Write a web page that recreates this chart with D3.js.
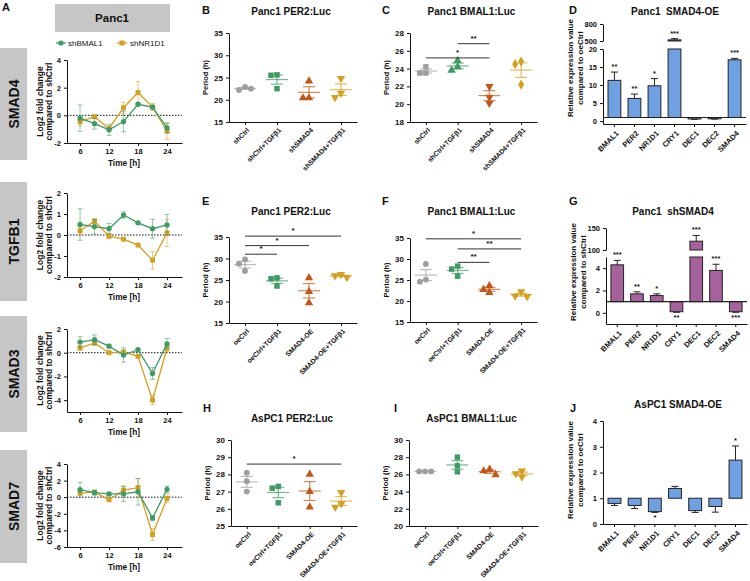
<!DOCTYPE html>
<html>
<head>
<meta charset="utf-8">
<script src="https://cdn.jsdelivr.net/npm/d3@7"></script>
<style>
body { margin: 0; background: #fff; }
svg { font-family: "Liberation Sans", Arial, sans-serif; }
text { white-space: pre; }
</style>
</head>
<body>
<svg width="750" height="581"></svg>
<script>
// ---- panel A : time courses (log2 fold change vs shCtrl) ----
var timePoints = [6, 9, 12, 15, 18, 21, 24];

var smad4Bmal = [-0.2, -0.6, -1.05, -0.45, 0.8, 0.6, -0.9];
var smad4BmalErr = [0.95, 0.4, 0.4, 0.75, 0.1, 0.1, 0.35];
var smad4Nr1d1 = [-0.45, -0.1, -0.95, 0.55, 1.65, 0.6, -1.15];
var smad4Nr1d1Err = [0.3, 0.1, 0.15, 0.4, 0.8, 0.25, 0.6];

var tgfb1Bmal = [0.5, 0.4, 0.3, 0.95, 0.58, 0.3, 0.48];
var tgfb1BmalErr = [0.75, 0.35, 0.25, 0.15, 0.05, 0.45, 0.5];
var tgfb1Nr1d1 = [0.2, 0.65, -0.05, -0.2, -0.48, -1.2, 0.1];
var tgfb1Nr1d1Err = [0.2, 0.12, 0.12, 0.05, 0.05, 0.42, 0.65];

var smad3Bmal = [0.9, 1.1, 0.55, -0.2, 0.25, -1.75, 0.75];
var smad3BmalErr = [0.45, 0.4, 0.15, 0.6, 0.05, 0.5, 0.45];
var smad3Nr1d1 = [0.4, 0.8, 0.0, 0.05, -0.3, -4.0, 0.4];
var smad3Nr1d1Err = [0.2, 0.12, 0.1, 0.15, 0.05, 0.4, 0.3];

var smad7Bmal = [0.9, 0.55, 0.4, 0.4, 0.65, -2.5, 0.95];
var smad7BmalErr = [0.9, 0.3, 0.2, 0.9, 1.6, 0.3, 0.4];
var smad7Nr1d1 = [0.5, 0.6, -0.3, 0.85, 1.15, -4.5, -0.15];
var smad7Nr1d1Err = [0.3, 0.15, 0.2, 0.5, 1.1, 0.7, 0.5];

// ---- period panels ----
var shGroups = ["shCtrl", "shCtrl+TGFβ1", "shSMAD4", "shSMAD4+TGFβ1"];
var oeGroups = ["oeCtrl", "oeCtrl+TGFβ1", "SMAD4-OE", "SMAD4-OE+TGFβ1"];

var periodB = [[22.9, 22.2, 22.5], [25.6, 25.5, 22.5], [24.2, 20.4, 20.4], [24.8, 21.5, 20.5]];
var periodC = [[24.2, 23.5, 23.5], [24.9, 24.2, 23.8], [22.0, 20.8, 20.1], [24.8, 24.5, 22.2]];
var periodE = [[29.8, 28.8, 27.1], [25.5, 25.3, 23.6], [25.5, 22.3, 19.7], [26.3, 26.0, 25.6]];
var periodF = [[28.8, 25.1, 24.6], [28.3, 27.6, 25.9], [23.6, 22.7, 22.0], [22.2, 21.2, 21.1]];
var periodH = [[28.1, 27.6, 27.0], [27.3, 27.2, 26.35], [28.0, 27.0, 26.1], [26.95, 26.3, 26.1]];
var periodI = [[26.35, 26.35, 26.35], [28.0, 27.0, 26.3], [26.6, 26.4, 25.95], [26.4, 26.1, 25.7]];

// [from group, to group, height, stars]
var sigC = [[0, 2, 25.2, "*"], [1, 2, 26.8, "**"]];
var sigE = [[0, 1, 31, "*"], [0, 2, 33, "*"], [0, 3, 35.2, "*"]];
var sigF = [[0, 3, 34.8, "*"], [1, 3, 32.4, "**"], [1, 2, 29.2, "**"]];
var sigH = [[0, 3, 28.6, "*"]];

// ---- expression bar panels ----
var barGenes = ["BMAL1", "PER2", "NR1D1", "CRY1", "DEC1", "DEC2", "SMAD4"];
var exprD = [11.3, 6.3, 9.8, 520, 0.6, 0.65, 17.0];
var errD = [2.3, 1.2, 2.0, 22, 0.1, 0.1, 0.4];
var starsD = ["**", "**", "*", "***", "", "", "***"];
var exprG = [4.3, 1.7, 1.55, 0.1, 120, 3.8, 0.1];
var errG = [0.4, 0.18, 0.15, 0.05, 13, 0.55, 0.05];
var starsG = ["***", "**", "*", "**", "***", "***", "***"];
var exprJ = [0.8, 0.72, 0.48, 1.38, 0.52, 0.68, 2.48];
var errJ = [0.08, 0.12, 0.03, 0.08, 0.07, 0.22, 0.55];
var starsJ = ["", "", "*", "", "", "", "*"];

var svg = d3.select("svg");
var green = "#3f9a63", orange = "#d4a021", grey = "#9e9e9e", rust = "#c2571a";
var fmt = function(d) { return String(d); };

function styleAxis(g, fs) {
  g.attr("font-family", null).attr("font-size", null);
  g.selectAll("path, line").attr("stroke", "#111").attr("stroke-width", 1);
  g.selectAll("text").attr("font-size", fs).attr("font-weight", "bold").attr("fill", "#111");
}

function addText(x, y, txt, size, weight, anchor, rot) {
  var t = svg.append("text")
    .attr("transform", "translate(" + x + "," + y + ")" + (rot ? " rotate(" + rot + ")" : ""))
    .attr("font-size", size).attr("font-weight", weight || "bold")
    .attr("text-anchor", anchor || "middle").attr("fill", "#111")
    .text(txt);
  return t;
}

// panel letters
[["A", 2, 11], ["B", 202, 14], ["C", 382, 14], ["D", 569, 14],
 ["E", 202, 205], ["F", 382, 205], ["G", 569, 205],
 ["H", 203, 412], ["I", 394, 412], ["J", 570, 412]].forEach(function(p) {
  addText(p[1], p[2], p[0], 11, "bold", "start");
});

// ================= panel A =================
svg.append("rect").attr("x", 55).attr("y", 4).attr("width", 115).attr("height", 28).attr("fill", "#c6c6c6");
addText(112, 22, "Panc1", 11.5);

// legend
svg.append("line").attr("x1", 56).attr("x2", 66).attr("y1", 43).attr("y2", 43).attr("stroke", green).attr("stroke-width", 1.3);
svg.append("circle").attr("cx", 61).attr("cy", 43).attr("r", 2.6).attr("fill", green);
addText(68, 46, "shBMAL1", 8, "normal", "start");
svg.append("line").attr("x1", 117).attr("x2", 127).attr("y1", 43).attr("y2", 43).attr("stroke", orange).attr("stroke-width", 1.3);
svg.append("rect").attr("x", 119.5).attr("y", 40.5).attr("width", 5).attr("height", 5).attr("fill", orange);
addText(130, 46, "shNR1D1", 8, "normal", "start");

function drawSeries(x, y, means, errs, color, shape) {
  var pts = timePoints.map(function(t, i) { return {t: t, m: means[i], e: errs[i]}; });
  var eb = svg.append("g").attr("stroke", color).attr("stroke-opacity", 0.55).attr("stroke-width", 1);
  pts.forEach(function(p) {
    eb.append("line").attr("x1", x(p.t)).attr("x2", x(p.t)).attr("y1", y(p.m - p.e)).attr("y2", y(p.m + p.e));
    eb.append("line").attr("x1", x(p.t) - 2.5).attr("x2", x(p.t) + 2.5).attr("y1", y(p.m - p.e)).attr("y2", y(p.m - p.e));
    eb.append("line").attr("x1", x(p.t) - 2.5).attr("x2", x(p.t) + 2.5).attr("y1", y(p.m + p.e)).attr("y2", y(p.m + p.e));
  });
  svg.append("path").datum(pts)
    .attr("d", d3.line().x(function(d) { return x(d.t); }).y(function(d) { return y(d.m); }))
    .attr("fill", "none").attr("stroke", color).attr("stroke-width", 1.3);
  var sym = d3.symbol().type(shape === "square" ? d3.symbolSquare : d3.symbolCircle).size(shape === "square" ? 24 : 22);
  svg.append("g").selectAll("path").data(pts).enter().append("path")
    .attr("d", sym).attr("fill", color)
    .attr("transform", function(d) { return "translate(" + x(d.t) + "," + y(d.m) + ")"; });
}

function linePanel(name, top, bottom, domain, ticks, bm, bmErr, nr, nrErr, boxTop, boxBottom) {
  svg.append("rect").attr("x", 0).attr("y", boxTop).attr("width", 27).attr("height", boxBottom - boxTop).attr("fill", "#c6c6c6");
  addText(14, (boxTop + boxBottom) / 2, name, 14, "bold", "middle", -90).attr("dy", "0.35em");

  var x = d3.scaleLinear().domain([3.3, 27.1]).range([67, 182]);
  var y = d3.scaleLinear().domain(domain).range([bottom, top]);

  svg.append("line").attr("x1", 67).attr("x2", 182).attr("y1", y(0)).attr("y2", y(0))
    .attr("stroke", "#111").attr("stroke-dasharray", "1.5,1.5");

  var gx = svg.append("g").attr("transform", "translate(0," + bottom + ")")
    .call(d3.axisBottom(x).tickValues([6, 12, 18, 24]).tickSize(3).tickSizeOuter(0).tickFormat(fmt));
  styleAxis(gx, 7.5);
  var gy = svg.append("g").attr("transform", "translate(67,0)")
    .call(d3.axisLeft(y).tickValues(ticks).tickSize(3).tickSizeOuter(0).tickFormat(fmt));
  styleAxis(gy, 7.5);

  var mid = (top + bottom) / 2;
  addText(43, mid, "Log2 fold change", 8.5, "bold", "middle", -90);
  addText(52, mid, "compared to shCtrl", 8.5, "bold", "middle", -90);
  addText(124, bottom + 23, "Time [h]", 8.3);

  drawSeries(x, y, nr, nrErr, orange, "square");
  drawSeries(x, y, bm, bmErr, green, "circle");
}

linePanel("SMAD4", 60, 143, [-2, 4], [-2, 0, 2, 4], smad4Bmal, smad4BmalErr, smad4Nr1d1, smad4Nr1d1Err, 48, 160);
linePanel("TGFB1", 193, 277, [-2, 2], [-2, -1, 0, 1, 2], tgfb1Bmal, tgfb1BmalErr, tgfb1Nr1d1, tgfb1Nr1d1Err, 182, 301);
linePanel("SMAD3", 329, 412, [-5, 2], [-4, -2, 0, 2], smad3Bmal, smad3BmalErr, smad3Nr1d1, smad3Nr1d1Err, 316, 432);
linePanel("SMAD7", 464, 547, [-6, 4], [-6, -4, -2, 0, 2, 4], smad7Bmal, smad7BmalErr, smad7Nr1d1, smad7Nr1d1Err, 450, 563);

// ================= period dot plots =================
var shapesStd = [d3.symbolCircle, d3.symbolSquare, d3.symbolTriangle, "down"];
var shapesC = [d3.symbolSquare, d3.symbolTriangle, "down", d3.symbolDiamond];
var groupColors = [grey, green, rust, orange];

function swarm(vals, y) {
  var placed = [];
  return vals.map(function(v) {
    var py = y(v), cands = [0, -6, 6, -12, 12];
    for (var i = 0; i < cands.length; i++) {
      var ok = placed.every(function(p) { return Math.hypot(p[0] - cands[i], p[1] - py) >= 6; });
      if (ok) { placed.push([cands[i], py]); return cands[i]; }
    }
    return 0;
  });
}

function dotPanel(o) {
  var x = d3.scalePoint().domain(o.cats).range([o.left, o.right]).padding(0.5);
  var y = d3.scaleLinear().domain(o.domain).range([o.bottom, o.top]);

  addText((o.left + o.right) / 2 - 2, o.titleY, o.title, 10);
  addText(o.left - 21, (o.top + o.bottom) / 2, "Period (h)", 7.5, "bold", "middle", -90);

  var gy = svg.append("g").attr("transform", "translate(" + o.left + ",0)")
    .call(d3.axisLeft(y).tickValues(o.ticks).tickSize(3).tickSizeOuter(0).tickFormat(fmt));
  styleAxis(gy, 8);
  var gx = svg.append("g").attr("transform", "translate(0," + o.bottom + ")")
    .call(d3.axisBottom(x).tickSize(3).tickSizeOuter(0).tickFormat(""));
  styleAxis(gx, 7);
  o.cats.forEach(function(c) {
    addText(x(c) + 3, o.bottom + 7, c, 6.8, "bold", "end", -45).attr("dy", "0.35em");
  });

  o.points.forEach(function(vals, gi) {
    var c = o.cats[gi], cx = x(c), col = groupColors[gi];
    var m = d3.mean(vals), sem = d3.deviation(vals) / Math.sqrt(vals.length);
    var offs = swarm(vals, y);
    var shp = o.shapes[gi];
    var sym = d3.symbol().type(shp === "down" ? d3.symbolTriangle : shp).size(shp === d3.symbolCircle ? 27 : 30);
    vals.forEach(function(v, k) {
      svg.append("path").attr("d", sym).attr("fill", col)
        .attr("transform", "translate(" + (cx + offs[k]) + "," + y(v) + ")" + (shp === "down" ? " rotate(180)" : ""));
    });
    var eg = svg.append("g").attr("stroke", col).attr("stroke-opacity", 0.7).attr("stroke-width", 1.2);
    eg.append("line").attr("x1", cx - 11).attr("x2", cx + 11).attr("y1", y(m)).attr("y2", y(m));
    eg.append("line").attr("x1", cx).attr("x2", cx).attr("y1", y(m - sem)).attr("y2", y(m + sem));
    eg.append("line").attr("x1", cx - 6).attr("x2", cx + 6).attr("y1", y(m - sem)).attr("y2", y(m - sem));
    eg.append("line").attr("x1", cx - 6).attr("x2", cx + 6).attr("y1", y(m + sem)).attr("y2", y(m + sem));
  });

  (o.sig || []).forEach(function(s) {
    var x1 = x(o.cats[s[0]]), x2 = x(o.cats[s[1]]), yy = y(s[2]);
    svg.append("line").attr("x1", x1).attr("x2", x2).attr("y1", yy).attr("y2", yy)
      .attr("stroke", "#333").attr("stroke-width", 1);
    addText((x1 + x2) / 2, yy - 3, s[3], 8, "bold");
  });
}

dotPanel({title: "Panc1 PER2:Luc", titleY: 15, left: 229, right: 357, top: 33, bottom: 122,
  domain: [15, 35], ticks: [15, 20, 25, 30, 35], cats: shGroups, points: periodB, shapes: shapesStd});
dotPanel({title: "Panc1 BMAL1:Luc", titleY: 15, left: 410, right: 537, top: 33, bottom: 122,
  domain: [18, 28], ticks: [18, 20, 22, 24, 26, 28], cats: shGroups, points: periodC, shapes: shapesC, sig: sigC});
dotPanel({title: "Panc1 PER2:Luc", titleY: 215, left: 229, right: 357, top: 237, bottom: 323,
  domain: [15, 35], ticks: [15, 20, 25, 30, 35], cats: oeGroups, points: periodE, shapes: shapesStd, sig: sigE});
dotPanel({title: "Panc1 BMAL1:Luc", titleY: 215, left: 410, right: 537, top: 238, bottom: 322,
  domain: [15, 35], ticks: [15, 20, 25, 30, 35], cats: oeGroups, points: periodF, shapes: shapesStd, sig: sigF});
dotPanel({title: "AsPC1 PER2:Luc", titleY: 422, left: 231, right: 357, top: 440, bottom: 526,
  domain: [25, 30], ticks: [25, 26, 27, 28, 29, 30], cats: oeGroups, points: periodH, shapes: shapesStd, sig: sigH});
dotPanel({title: "AsPC1 BMAL1:Luc", titleY: 422, left: 409, right: 538, top: 440, bottom: 526,
  domain: [20, 30], ticks: [20, 22, 24, 26, 28, 30], cats: oeGroups, points: periodI, shapes: shapesStd});

// ================= expression bar charts =================
function barPanel(o) {
  var x = d3.scaleBand().domain(barGenes).range([o.left, o.right]).paddingInner(0.36).paddingOuter(0.25);
  var low = d3.scaleLinear().domain(o.low.domain).range(o.low.range);
  var up = o.up ? d3.scaleLinear().domain(o.up.domain).range(o.up.range) : null;
  var lowMax = o.low.domain[1];

  addText(o.titleX, o.titleY, o.title, 10);
  addText(o.left - 30, o.labelY, "Relative expression value", 8, "bold", "middle", -90);
  addText(o.left - 20, o.labelY, o.ref, 8, "bold", "middle", -90);

  var gy = svg.append("g").attr("transform", "translate(" + o.left + ",0)")
    .call(d3.axisLeft(low).tickValues(o.low.ticks).tickSize(3).tickSizeOuter(0).tickFormat(fmt));
  styleAxis(gy, 7.5);
  if (up) {
    var gu = svg.append("g").attr("transform", "translate(" + o.left + ",0)")
      .call(d3.axisLeft(up).tickValues(o.up.ticks).tickSize(3).tickSizeOuter(0).tickFormat(fmt));
    styleAxis(gu, 7.5);
  }
  var axisY = o.low.range[0];
  var gx = svg.append("g").attr("transform", "translate(0," + axisY + ")")
    .call(d3.axisBottom(x).tickSize(3).tickSizeOuter(0).tickFormat(""));
  styleAxis(gx, 7);
  barGenes.forEach(function(gname) {
    addText(x(gname) + x.bandwidth() / 2 + 3, axisY + 8, gname, 7.5, "bold", "end", -45).attr("dy", "0.35em");
  });

  var base = low(1);
  o.values.forEach(function(v, i) {
    var bx = x(barGenes[i]), bw = x.bandwidth(), e = o.errs[i], cx = bx + bw / 2;
    var topLow = low(Math.min(v, lowMax));
    svg.append("rect").attr("x", bx).attr("width", bw)
      .attr("y", Math.min(base, topLow)).attr("height", Math.abs(base - topLow))
      .attr("fill", o.color).attr("stroke", "#222").attr("stroke-width", 1);
    var ys = low, tipV = v;
    if (v > lowMax && up) {
      ys = up;
      svg.append("rect").attr("x", bx).attr("width", bw)
        .attr("y", up(v)).attr("height", up(o.up.domain[0]) - up(v))
        .attr("fill", o.color).attr("stroke", "#222").attr("stroke-width", 1);
    }
    var endV = v >= 1 ? v + e : v - e;
    svg.append("line").attr("x1", cx).attr("x2", cx).attr("y1", ys(tipV)).attr("y2", ys(endV))
      .attr("stroke", "#222").attr("stroke-width", 1);
    svg.append("line").attr("x1", cx - 3.5).attr("x2", cx + 3.5).attr("y1", ys(endV)).attr("y2", ys(endV))
      .attr("stroke", "#222").attr("stroke-width", 1);
    if (o.stars[i]) {
      var sy = v >= 1 ? ys(endV) - 3 : ys(endV) + 8;
      addText(cx, sy, o.stars[i], 7.5, "bold");
    }
  });
  if (o.baseLine) {
    svg.append("line").attr("x1", o.left).attr("x2", o.right).attr("y1", base).attr("y2", base)
      .attr("stroke", "#222").attr("stroke-width", 1.2);
  }
}

barPanel({title: "Panc1  SMAD4-OE", titleX: 675, titleY: 15, left: 603, right: 746, labelY: 68,
  ref: "compared to oeCtrl", color: "#6fa0e2", baseLine: true,
  low: {domain: [-0.8, 20], range: [124, 49], ticks: [0, 5, 10, 15, 20]},
  up: {domain: [500, 800], range: [41, 24], ticks: [500, 800]},
  values: exprD, errs: errD, stars: starsD});
barPanel({title: "Panc1  shSMAD4", titleX: 673, titleY: 215, left: 606, right: 747, labelY: 272,
  ref: "compared to shCtrl", color: "#a5629d", baseLine: true,
  low: {domain: [-1, 5], range: [324, 257], ticks: [0, 2, 4]},
  up: {domain: [100, 150], range: [250, 228], ticks: [100, 150]},
  values: exprG, errs: errG, stars: starsG});
barPanel({title: "AsPC1 SMAD4-OE", titleX: 678, titleY: 408, left: 603, right: 747, labelY: 470,
  ref: "compared to oeCtrl", color: "#6fa0e2", baseLine: false,
  low: {domain: [0, 4], range: [524, 421], ticks: [0, 1, 2, 3, 4]},
  up: null,
  values: exprJ, errs: errJ, stars: starsJ});
</script>
</body>
</html>
